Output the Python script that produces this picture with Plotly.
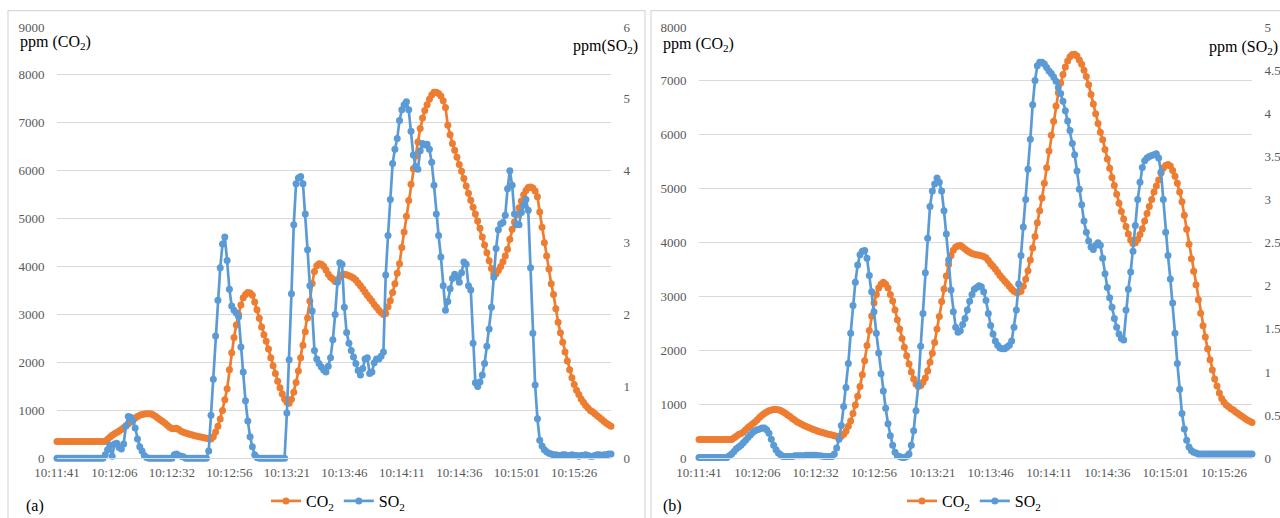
import plotly.graph_objects as go

# ---------------- data ----------------
time_labels = ["10:11:41", "10:12:06", "10:12:32", "10:12:56", "10:13:21",
               "10:13:46", "10:14:11", "10:14:36", "10:15:01", "10:15:26"]
label_step = 25  # one time label every 25 samples

# panel (a)
co2_a = [
    350, 350, 350, 350, 350, 350, 350, 350, 350, 350,
    350, 350, 350, 350, 350, 350, 350, 350, 350, 350,
    350, 350, 400, 440, 480, 510, 540, 570, 600, 640,
    680, 720, 760, 800, 840, 870, 900, 915, 925, 930,
    930, 925, 905, 870, 835, 800, 770, 730, 690, 650,
    620, 615, 625, 600, 565, 545, 530, 510, 495, 485,
    470, 460, 450, 440, 430, 420, 410, 405, 450, 550,
    670, 820, 1000, 1220, 1450, 1850, 2200, 2520, 2780, 3000,
    3200, 3350, 3420, 3460, 3450, 3400, 3260, 3100, 2920, 2740,
    2580, 2440, 2280, 2100, 1930, 1770, 1610, 1470, 1340, 1240,
    1170, 1150, 1230, 1380, 1580, 1820, 2100, 2360, 2640, 2930,
    3280, 3650, 3900, 4020, 4060, 4050, 4010, 3930, 3840, 3780,
    3740, 3690, 3700, 3780, 3830, 3840, 3830, 3810, 3790, 3760,
    3720, 3660, 3600, 3540, 3470, 3400, 3340, 3280, 3210, 3150,
    3090, 3040, 3000, 3020, 3160, 3290, 3460, 3640, 3860, 4060,
    4400, 4720, 5050, 5380, 5720, 6040, 6310, 6600, 6880, 7100,
    7260, 7380, 7490, 7580, 7640, 7640, 7610, 7560, 7460, 7320,
    6950, 6750, 6570, 6430, 6280, 6130, 5990, 5840, 5680, 5530,
    5385, 5240, 5100, 4950, 4800, 4620, 4450, 4290, 4120, 3960,
    3850, 3850, 3920, 4000, 4100, 4220, 4360, 4570, 4780, 4930,
    5080, 5230, 5370, 5500, 5590, 5650, 5660, 5640, 5580, 5460,
    5140, 4820, 4500, 4220, 3950, 3640, 3420, 3120, 2840, 2620,
    2420, 2220, 2030, 1850, 1680, 1540, 1420, 1330, 1240, 1170,
    1100, 1050, 1000, 970, 930, 890, 850, 810, 770, 730,
    700, 670,
]
so2_a = [
    0, 0, 0, 0, 0, 0, 0, 0, 0, 0,
    0, 0, 0, 0, 0, 0, 0, 0, 0, 0,
    0, 0.05, 0.12, 0.18, 0.03, 0.20, 0.21, 0.15, 0.13, 0.20,
    0.45, 0.58, 0.57, 0.52, 0.42, 0.27, 0.16, 0.10, 0.04, 0.01,
    0, 0, 0, 0, 0, 0, 0, 0, 0, 0,
    0, 0.05, 0.06, 0.04, 0.03, 0.02, 0, 0, 0, 0,
    0, 0, 0, 0, 0, 0, 0.10, 0.60, 1.10, 1.70,
    2.20, 2.65, 2.98, 3.08, 2.75, 2.35, 2.12, 2.06, 2.02, 1.97,
    1.55, 1.20, 0.80, 0.52, 0.30, 0.16, 0.05, 0.01, 0, 0,
    0, 0, 0, 0, 0, 0, 0, 0, 0, 0,
    0.63, 1.37, 2.29, 3.25, 3.82, 3.90, 3.92, 3.82, 3.40, 2.90,
    2.40, 2.05, 1.50, 1.38, 1.32, 1.27, 1.23, 1.20, 1.28, 1.40,
    1.65, 2.00, 2.45, 2.72, 2.70, 2.10, 1.75, 1.60, 1.50, 1.41,
    1.32, 1.22, 1.16, 1.25, 1.38, 1.40, 1.18, 1.20, 1.33, 1.38,
    1.38, 1.42, 1.48, 2.55, 3.10, 3.60, 4.10, 4.30, 4.45, 4.70,
    4.85, 4.92, 4.96, 4.85, 4.55, 4.22, 4.06, 4.02, 4.28, 4.38,
    4.36, 4.37, 4.30, 4.12, 3.80, 3.40, 3.10, 2.80, 2.40, 2.06,
    2.18, 2.36, 2.50, 2.56, 2.52, 2.45, 2.58, 2.73, 2.70, 2.40,
    2.34, 1.60, 1.05, 1.00, 1.06, 1.16, 1.32, 1.56, 1.80, 2.10,
    2.52, 2.92, 3.18, 3.26, 3.28, 3.38, 3.75, 4.00, 3.80, 3.40,
    3.25, 3.25, 3.42, 3.52, 3.60, 3.45, 2.65, 1.74, 1.02, 0.55,
    0.25, 0.17, 0.12, 0.09, 0.07, 0.06, 0.05, 0.05, 0.04, 0.04,
    0.05, 0.05, 0.04, 0.04, 0.05, 0.04, 0.04, 0.03, 0.04, 0.04,
    0.05, 0.04, 0.03, 0.03, 0.04, 0.05, 0.05, 0.04, 0.05, 0.05,
    0.06, 0.06,
]

# panel (b)
co2_b = [
    350, 350, 350, 350, 350, 350, 350, 350, 350, 350,
    350, 350, 350, 350, 350, 380, 410, 440, 460, 490,
    530, 570, 605, 640, 675, 715, 760, 800, 830, 860,
    880, 895, 903, 905, 900, 885, 865, 835, 805, 775,
    740, 710, 680, 655, 632, 610, 590, 570, 553, 535,
    518, 503, 490, 477, 465, 452, 440, 430, 418, 410,
    400, 410, 445, 500, 595, 690, 830, 990, 1150, 1330,
    1550, 1810, 2090, 2370, 2640, 2880, 3040, 3160, 3230, 3265,
    3230, 3160, 3040, 2920, 2750, 2570, 2400, 2220, 2060, 1900,
    1750, 1600, 1470, 1380, 1330, 1350, 1410, 1490, 1620, 1780,
    1950, 2150, 2400, 2630, 2910, 3140, 3380, 3600, 3760, 3860,
    3920, 3940, 3945, 3920, 3880, 3850, 3820, 3800, 3785, 3775,
    3765, 3755, 3745, 3720, 3670, 3610, 3560, 3510, 3450, 3390,
    3340, 3290, 3240, 3190, 3140, 3100, 3075, 3080, 3100, 3190,
    3320, 3480, 3680, 3900, 4115, 4370, 4590, 4830, 5100, 5390,
    5700, 5990, 6250, 6535, 6780, 6960, 7120, 7260, 7370, 7450,
    7490, 7495, 7460, 7390, 7310, 7200, 7080, 6930, 6750, 6570,
    6390, 6210, 6050, 5910, 5730, 5550, 5380, 5210, 5060, 4900,
    4730, 4580, 4440, 4300, 4160, 4050, 3985, 4000, 4060, 4150,
    4260, 4400, 4540, 4670, 4800, 4940, 5050, 5160, 5290, 5385,
    5430, 5450, 5420, 5340, 5230, 5100, 4940, 4760, 4510, 4250,
    3970, 3700, 3470, 3220, 2940, 2690, 2460, 2250, 2030, 1830,
    1640, 1470, 1340, 1210, 1110, 1040, 990, 955, 920, 895,
    860, 830, 800, 770, 740, 710, 685, 665,
]
so2_b = [
    0.01, 0.01, 0.01, 0.01, 0.01, 0.01, 0.01, 0.01, 0.01, 0.01,
    0.01, 0.01, 0.01, 0.03, 0.05, 0.08, 0.11, 0.13, 0.15, 0.18,
    0.21, 0.24, 0.27, 0.30, 0.32, 0.33, 0.34, 0.35, 0.35, 0.33,
    0.29, 0.22, 0.15, 0.10, 0.06, 0.04, 0.02, 0.02, 0.02, 0.02,
    0.02, 0.03, 0.03, 0.03, 0.03, 0.03, 0.035, 0.035, 0.035, 0.035,
    0.035, 0.03, 0.03, 0.025, 0.02, 0.02, 0.02, 0.02, 0.05, 0.12,
    0.22, 0.38, 0.60, 0.82, 1.10, 1.45, 1.77, 2.04, 2.24, 2.36,
    2.40, 2.41, 2.32, 2.12, 1.93, 1.70, 1.45, 1.22, 0.98, 0.78,
    0.58, 0.40, 0.26, 0.15, 0.07, 0.03, 0.02, 0.01, 0.01, 0.02,
    0.05, 0.15, 0.32, 0.55, 0.85, 1.30, 1.68, 2.15, 2.55, 2.92,
    3.10, 3.18, 3.25, 3.20, 3.10, 2.87, 2.60, 2.30, 1.95, 1.70,
    1.52, 1.46, 1.48, 1.55, 1.62, 1.72, 1.82, 1.90, 1.96, 1.98,
    2.00, 1.99, 1.93, 1.83, 1.68, 1.54, 1.44, 1.36, 1.31, 1.28,
    1.27, 1.27, 1.29, 1.31, 1.36, 1.52, 1.72, 2.02, 2.35, 2.68,
    3.00, 3.35, 3.70, 4.10, 4.38, 4.55, 4.59, 4.59, 4.57, 4.53,
    4.49, 4.46, 4.42, 4.37, 4.30, 4.23, 4.14, 4.03, 3.91, 3.80,
    3.65, 3.52, 3.33, 3.12, 2.94, 2.75, 2.62, 2.52, 2.45, 2.42,
    2.47, 2.50, 2.47, 2.32, 2.14, 1.98, 1.86, 1.75, 1.62, 1.52,
    1.44, 1.39, 1.37, 1.72, 1.96, 2.16, 2.40, 2.70, 3.00, 3.20,
    3.37, 3.45, 3.48, 3.50, 3.51, 3.52, 3.53, 3.48, 3.32, 3.00,
    2.62, 2.35, 2.08, 1.80, 1.45, 1.10, 0.80, 0.52, 0.34, 0.21,
    0.13, 0.09, 0.07, 0.06, 0.05, 0.05, 0.05, 0.05, 0.05, 0.05,
    0.05, 0.05, 0.05, 0.05, 0.05, 0.05, 0.05, 0.05, 0.05, 0.05,
    0.05, 0.05, 0.05, 0.05, 0.05, 0.05, 0.05, 0.05,
]

# ---------------- styling ----------------
W, H = 1280, 518


def px(x):
    return x / W


def py(y):
    return 1 - y / H


ORANGE = "#ED7D31"
BLUE = "#5B9BD5"
FONT = "Liberation Serif"
GRID = "#D9D9D9"
TICKC = "#595959"
CLEAR = "rgba(0,0,0,0)"

fig = go.Figure()

xa = list(range(len(co2_a)))
xb = list(range(len(co2_b)))


def add(x, y, name, color, xaxis, yaxis, legend):
    fig.add_trace(go.Scatter(
        x=x, y=y, name=name, mode="lines+markers",
        line=dict(color=color, width=2.7),
        marker=dict(size=7, color=color),
        xaxis=xaxis, yaxis=yaxis, legend=legend, cliponaxis=False,
    ))


add(xa, co2_a, "CO<sub>2</sub>", ORANGE, "x", "y", "legend")
add(xa, so2_a, "SO<sub>2</sub>", BLUE, "x", "y2", "legend")
add(xb, co2_b, "CO<sub>2</sub>", ORANGE, "x2", "y3", "legend2")
add(xb, so2_b, "SO<sub>2</sub>", BLUE, "x2", "y4", "legend2")

tickfont = dict(family=FONT, size=13, color=TICKC)
tickvals_a = list(range(0, len(co2_a), label_step))[:len(time_labels)]
tickvals_b = list(range(0, len(co2_b), label_step))[:len(time_labels)]

xcommon = dict(showgrid=False, zeroline=False, showline=True, linecolor=GRID,
               linewidth=1, ticks="outside", ticklen=2, tickcolor=CLEAR,
               tickfont=tickfont, automargin=False)
ycommon = dict(zeroline=False, showline=False, ticks="outside", ticklen=9,
               tickcolor=CLEAR, tickfont=tickfont, automargin=False)

ydom = [py(458.3), py(27.0)]

fig.update_layout(
    template="none",
    width=W, height=H,
    margin=dict(l=0, r=0, t=0, b=0, pad=0),
    paper_bgcolor="white", plot_bgcolor="white",
    font=dict(family=FONT, size=13, color=TICKC),
    showlegend=True,
    xaxis=dict(domain=[px(57), px(611)], range=[0, len(co2_a) - 1],
               tickvals=tickvals_a, ticktext=time_labels, anchor="y", **xcommon),
    yaxis=dict(domain=ydom, range=[0, 9000], dtick=1000, showgrid=True,
               gridcolor=GRID, gridwidth=1, anchor="x", **ycommon),
    yaxis2=dict(overlaying="y", side="right", range=[0, 6], dtick=1,
                showgrid=False, anchor="x", **ycommon),
    xaxis2=dict(domain=[px(699), px(1252)], range=[0, len(co2_b) - 1],
                tickvals=tickvals_b, ticktext=time_labels, anchor="y3", **xcommon),
    yaxis3=dict(domain=ydom, range=[0, 8000], dtick=1000, showgrid=True,
                gridcolor=GRID, gridwidth=1, anchor="x2", **ycommon),
    yaxis4=dict(overlaying="y3", side="right", range=[0, 5], dtick=0.5,
                showgrid=False, anchor="x2", **ycommon),
    legend=dict(orientation="h", x=px(338), xanchor="center", y=py(501),
                yanchor="middle", font=dict(family=FONT, size=16, color="black"),
                bgcolor=CLEAR, itemwidth=30),
    legend2=dict(orientation="h", x=px(974), xanchor="center", y=py(501),
                 yanchor="middle", font=dict(family=FONT, size=16, color="black"),
                 bgcolor=CLEAR, itemwidth=30),
)

ann_font = dict(family=FONT, size=16, color="black")
annotations = [
    dict(text="ppm (CO<sub>2</sub>)", x=px(18), y=py(43), xanchor="left"),
    dict(text="ppm(SO<sub>2</sub>)", x=px(640), y=py(46), xanchor="right"),
    dict(text="ppm (CO<sub>2</sub>)", x=px(661), y=py(44), xanchor="left"),
    dict(text="ppm (SO<sub>2</sub>)", x=px(1280), y=py(47), xanchor="right"),
    dict(text="(a)", x=px(24), y=py(506), xanchor="left"),
    dict(text="(b)", x=px(661), y=py(506), xanchor="left"),
]
for a in annotations:
    fig.add_annotation(xref="paper", yref="paper", showarrow=False,
                       yanchor="middle", font=ann_font, **a)

# panel frames
fig.add_shape(type="rect", xref="paper", yref="paper",
              x0=px(8), x1=px(645), y0=py(520), y1=py(10.7),
              line=dict(color=GRID, width=1.2), layer="below")
fig.add_shape(type="rect", xref="paper", yref="paper",
              x0=px(651), x1=px(1284), y0=py(520), y1=py(10.7),
              line=dict(color=GRID, width=1.2), layer="below")

fig.write_html("out.html", config={"displayModeBar": False},
               post_script="document.body.style.margin='0';document.body.style.overflow='hidden';")
